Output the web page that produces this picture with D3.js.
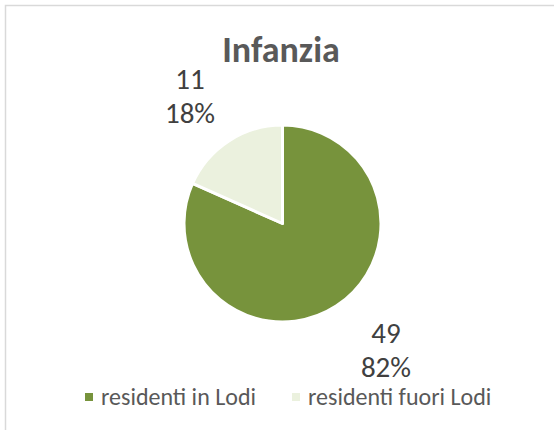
<!DOCTYPE html>
<html><head><meta charset="utf-8">
<script src="https://cdn.jsdelivr.net/npm/d3@7"></script>
<style>body{margin:0;background:#fff}svg{display:block}</style>
</head><body>
<script>
const title = "Infanzia";
const categories = ["residenti in Lodi", "residenti fuori Lodi"];
const values = [49, 11];
const percents = ["82%", "18%"];
const colors = ["#77933c", "#ebf1de"];

const W = 554, H = 430;
const font = "Carlito, Calibri, Lato, sans-serif";
const svg = d3.select("body").append("svg").attr("width", W).attr("height", H);
svg.append("rect").attr("x", 5.5).attr("y", 5.5).attr("width", W).attr("height", H)
  .attr("fill", "#fff").attr("stroke", "#d9d9d9").attr("stroke-width", 1.5);

svg.append("text").attr("x", 281).attr("y", 62).attr("text-anchor", "middle")
  .attr("font-family", font).attr("font-weight", "bold").attr("font-size", 36)
  .attr("fill", "#595959").text(title);

const cx = 282.5, cy = 223.5, r = 98.5;
const pie = d3.pie().sort(null).value(d => d)(values);
const arc = d3.arc().innerRadius(0).outerRadius(r);
const g = svg.append("g").attr("transform", `translate(${cx},${cy})`);
g.selectAll("path").data(pie).join("path")
  .attr("d", arc).attr("fill", (d, i) => colors[i])
  .attr("stroke", "#fff").attr("stroke-width", 3).attr("stroke-linejoin", "round");

// labels outside
const labelPos = [[386-cx, 343-cy], [190-cx, 89-cy]];
pie.forEach((d, i) => {
  const t = g.append("text").attr("text-anchor", "middle")
    .attr("font-family", font).attr("font-size", 29).attr("fill", "#404040");
  t.append("tspan").attr("x", labelPos[i][0]).attr("y", labelPos[i][1]).text(values[i]);
  t.append("tspan").attr("x", labelPos[i][0]).attr("y", labelPos[i][1] + 34).text(percents[i]);
});

// legend
const legX = [85, 292];
const leg = svg.append("g");
categories.forEach((c, i) => {
  leg.append("rect").attr("x", legX[i]).attr("y", 393).attr("width", 8).attr("height", 8).attr("fill", colors[i]);
  leg.append("text").attr("x", legX[i] + 16).attr("y", 405)
    .attr("font-family", font).attr("font-size", 24).attr("fill", "#595959").text(c);
});
</script>
</body></html>
